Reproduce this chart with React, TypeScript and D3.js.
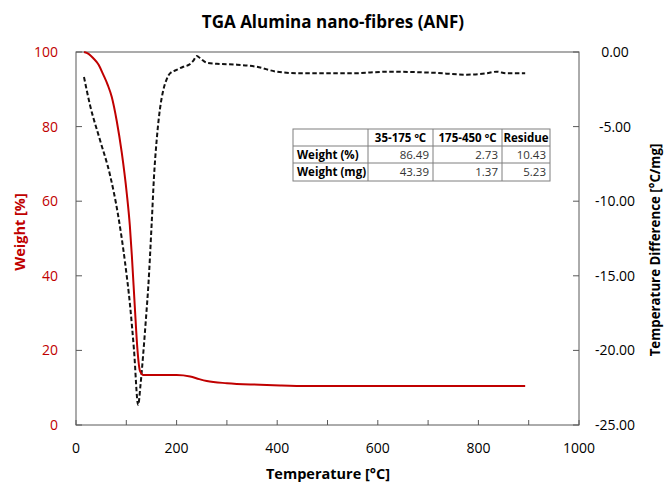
import React from "react";
import * as d3 from "d3";

// TGA weight curve (temperature °C, weight %)
const tgaTemp = [16, 25, 34, 45, 54, 63, 71, 81, 91, 101, 107, 111, 117, 122, 127, 134, 160, 200, 227, 245, 260, 300, 366, 406, 460, 600, 750, 893];
const tgaWeight = [100, 99.5, 98.4, 96.6, 94.0, 91.2, 88.0, 81.5, 73, 62, 53.5, 45.5, 31.5, 20.5, 14.6, 13.4, 13.4, 13.4, 13.0, 12.3, 11.8, 11.2, 10.8, 10.6, 10.45, 10.45, 10.45, 10.43];

// DTA temperature difference curve (temperature °C, °C/mg)
const dtaTemp = [15.9, 27.8, 47.7, 67.6, 83.5, 97.4, 107.4, 115.3, 123.6, 128, 133.8, 139, 143.7, 150.5, 155, 160.4, 167, 173.6, 180, 186.9, 200, 213.3, 225, 233, 240, 248, 259.8, 286, 320, 359, 399, 445, 545, 624, 710, 777, 816, 836, 856, 893];
const dtaValue = [-1.68, -3.55, -5.9, -8.24, -10.9, -14.08, -16.96, -19.97, -23.66, -22.4, -20.17, -17.9, -15.73, -11.46, -8.4, -5.9, -3.8, -2.55, -1.85, -1.43, -1.2, -0.99, -0.85, -0.6, -0.27, -0.45, -0.72, -0.8, -0.85, -0.99, -1.32, -1.43, -1.43, -1.32, -1.39, -1.52, -1.43, -1.32, -1.43, -1.43];

const xTicks = [0, 100, 200, 300, 400, 500, 600, 700, 800, 900, 1000];
const xTickLabels = [0, 200, 400, 600, 800, 1000];
const weightTicks = [0, 20, 40, 60, 80, 100];
const dtaTicks = [0, -5, -10, -15, -20, -25];

const tableHeader = ["", "35-175 ºC", "175-450 ºC", "Residue"];
const tableRowLabels = ["Weight (%)", "Weight (mg)"];
const tablePercent = ["86.49", "2.73", "10.43"];
const tableMg = ["43.39", "1.37", "5.23"];

const W = 664;
const H = 484;
const plot = { left: 76, top: 52, right: 579, bottom: 425 };
const RED = "#c00000";
const FONT = "'Open Sans', 'DejaVu Sans', sans-serif";

export default function App() {
  const x = d3.scaleLinear().domain([0, 1000]).range([plot.left, plot.right]);
  const yW = d3.scaleLinear().domain([0, 100]).range([plot.bottom, plot.top]);
  const yD = d3.scaleLinear().domain([-25, 0]).range([plot.bottom, plot.top]);

  const tgaLine = d3
    .line<number>()
    .x((_, i) => x(tgaTemp[i]))
    .y((d) => yW(d))
    .curve(d3.curveMonotoneX);
  const dtaLine = d3
    .line<number>()
    .x((_, i) => x(dtaTemp[i]))
    .y((d) => yD(d))
    .curve(d3.curveMonotoneX);

  const colX = [293, 368, 433, 502, 550];
  const rowY = [129, 146, 163, 181];
  const rows = [tableHeader, [tableRowLabels[0], ...tablePercent], [tableRowLabels[1], ...tableMg]];

  return (
    <svg width={W} height={H} style={{ position: "absolute", left: 0, top: 0, background: "#fff" }}>
      <rect x={0} y={0} width={W} height={H} fill="#fff" />
      <text x={333} y={28} textAnchor="middle" fontFamily={FONT} fontWeight="bold" fontSize={17} fill="#000">
        TGA Alumina nano-fibres (ANF)
      </text>

      {/* plot frame */}
      <rect x={plot.left} y={plot.top} width={plot.right - plot.left} height={plot.bottom - plot.top} fill="none" stroke="#595959" strokeWidth={1} />

      {/* x ticks */}
      {xTicks.map((t) => (
        <line key={"xt" + t} x1={x(t)} x2={x(t)} y1={plot.bottom} y2={plot.bottom - 5} stroke="#595959" />
      ))}
      {xTickLabels.map((t) => (
        <text key={"xl" + t} x={x(t)} y={453} textAnchor="middle" fontFamily={FONT} fontSize={14} fill="#000">
          {t}
        </text>
      ))}
      <text x={328} y={479} textAnchor="middle" fontFamily={FONT} fontWeight="bold" fontSize={14.5} fill="#000">
        Temperature [°C]
      </text>

      {/* left weight axis */}
      {weightTicks.map((t) => (
        <g key={"yw" + t}>
          <line x1={plot.left} x2={plot.left + 6} y1={yW(t)} y2={yW(t)} stroke="#595959" />
          <text x={58} y={yW(t) + 5} textAnchor="end" fontFamily={FONT} fontSize={14} fill={RED}>
            {t}
          </text>
        </g>
      ))}
      <text transform={`translate(25,232) rotate(-90)`} textAnchor="middle" fontFamily={FONT} fontWeight="bold" fontSize={14.5} fill={RED}>
        Weight [%]
      </text>

      {/* right DTA axis */}
      {dtaTicks.map((t) => (
        <g key={"yd" + t}>
          <line x1={plot.right - 6} x2={plot.right} y1={yD(t)} y2={yD(t)} stroke="#595959" />
          <text x={615} y={yD(t) + 5} textAnchor="middle" fontFamily={FONT} fontSize={14} fill="#000">
            {t.toFixed(2)}
          </text>
        </g>
      ))}
      <text transform={`translate(659.5,250) rotate(-90)`} textAnchor="middle" fontFamily={FONT} fontWeight="bold" fontSize={13.3} fill="#000">
        Temperature Difference [°C/mg]
      </text>

      {/* curves */}
      <path d={dtaLine(dtaValue) || ""} fill="none" stroke="#111" strokeWidth={2} strokeDasharray="4.5,2.5" />
      <path d={tgaLine(tgaWeight) || ""} fill="none" stroke={RED} strokeWidth={2} />

      {/* summary table */}
      <g fontFamily={FONT} fontSize={11.5}>
        <rect x={colX[0]} y={rowY[0]} width={colX[4] - colX[0]} height={rowY[3] - rowY[0]} fill="#fff" stroke="#7f7f7f" />
        {rowY.slice(1, 3).map((y) => (
          <line key={"rl" + y} x1={colX[0]} x2={colX[4]} y1={y} y2={y} stroke="#7f7f7f" />
        ))}
        {colX.slice(1, 4).map((cx) => (
          <line key={"cl" + cx} x1={cx} x2={cx} y1={rowY[0]} y2={rowY[3]} stroke="#7f7f7f" />
        ))}
        {rows.map((row, r) =>
          row.map((cell, c) => {
            const header = r === 0 || c === 0;
            const anchor = r === 0 ? "middle" : c === 0 ? "start" : "end";
            const tx = r === 0 ? (colX[c] + colX[c + 1]) / 2 : c === 0 ? colX[0] + 4 : colX[c + 1] - 4;
            return (
              <text
                key={`c${r}-${c}`}
                x={tx}
                y={rowY[r] + 12.5}
                textAnchor={anchor}
                fontWeight={header ? "bold" : "normal"}
                fill={header ? "#000" : "#333"}
              >
                {cell}
              </text>
            );
          })
        )}
      </g>
    </svg>
  );
}
